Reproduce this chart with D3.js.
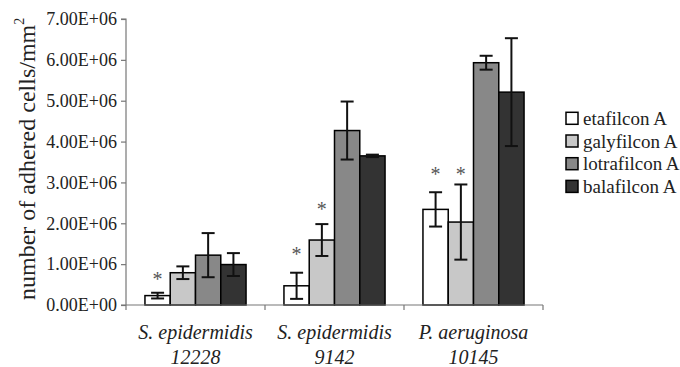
<!DOCTYPE html>
<html><head><meta charset="utf-8">
<script src="https://cdn.jsdelivr.net/npm/d3@7"></script>
<style>body{margin:0;background:#fff}svg{display:block;font-family:"Liberation Serif",serif}</style>
</head><body>
<script>
const categories = [["S. epidermidis","12228"],["S. epidermidis","9142"],["P. aeruginosa","10145"]];
const seriesNames = ["etafilcon A","galyfilcon A","lotrafilcon A","balafilcon A"];
const colors = ["#ffffff","#c8c8c8","#888888","#333333"];
// values in cells/mm^2 (x1e6)
const etafilcon = [0.23, 0.47, 2.34];
const galyfilcon = [0.79, 1.59, 2.03];
const lotrafilcon = [1.22, 4.27, 5.93];
const balafilcon = [0.99, 3.65, 5.21];
const etafilconErr = [0.07, 0.32, 0.42];
const galyfilconErr = [0.155, 0.39, 0.92];
const lotrafilconErr = [0.54, 0.71, 0.17];
const balafilconErr = [0.28, 0.03, 1.32];
// significance markers: [category, series, height (x1e6)]
const asterisks = [[0,0,0.69],[1,0,1.30],[1,1,2.41],[2,0,3.26],[2,1,3.26]];
const yTicks = [0,1,2,3,4,5,6,7];

(function(){
const values = [etafilcon, galyfilcon, lotrafilcon, balafilcon];
const errs = [etafilconErr, galyfilconErr, lotrafilconErr, balafilconErr];

const W = 680, H = 367;
const svg = d3.select("body").append("svg").attr("width", W).attr("height", H);
const mL = 126, mR = 543, mT = 19, mB = 305;
const x = d3.scaleBand().domain(d3.range(categories.length)).range([mL, mR]).paddingInner(0).paddingOuter(0);
const y = d3.scaleLinear().domain([0, 7]).range([mB, mT]);
const bw = x.bandwidth() / (4 + 1.5);
const off = bw * 0.75;
const font = "Liberation Serif";

// bars
const bars = [];
values.forEach((arr, s) => arr.forEach((v, c) => bars.push({s, c, v, e: errs[s][c]})));
const bx = d => x(d.c) + off + d.s * bw;
svg.append("g").selectAll("rect").data(bars).join("rect")
  .attr("x", bx).attr("y", d => y(d.v)).attr("width", bw).attr("height", d => y(0) - y(d.v))
  .attr("fill", d => colors[d.s]).attr("stroke", "#000").attr("stroke-width", 1.5);

// error bars
const eg = svg.append("g").attr("stroke", "#111").attr("stroke-width", 2);
bars.forEach(d => {
  const cx = bx(d) + bw / 2;
  eg.append("line").attr("x1", cx).attr("x2", cx).attr("y1", y(d.v + d.e)).attr("y2", y(d.v - d.e));
  [d.v + d.e, d.v - d.e].forEach(t => eg.append("line").attr("x1", cx - 6.5).attr("x2", cx + 6.5).attr("y1", y(t)).attr("y2", y(t)));
});

// asterisks
svg.append("g").selectAll("text").data(asterisks).join("text")
  .attr("x", d => x(d[0]) + off + d[1] * bw + bw / 2).attr("y", d => y(d[2]) + 9)
  .attr("text-anchor", "middle").attr("font-family", font).attr("font-size", 20).attr("fill", "#555")
  .text("*");

// y axis
const yAxis = d3.axisLeft(y).tickValues(yTicks).tickSize(5).tickFormat(d => d3.format(".2f")(d) + "E+" + (d === 0 ? "00" : "06"));
const ya = svg.append("g").attr("transform", `translate(${mL},0)`).call(yAxis);
ya.attr("font-family", font);
ya.select(".domain").attr("stroke", "#777").attr("stroke-width", 1.2).attr("d", `M-5,${mT}H0V${mB}`);
ya.selectAll(".tick line").attr("stroke", "#777").attr("stroke-width", 1.2);
ya.selectAll(".tick text").attr("font-family", font).attr("font-size", 18).attr("fill", "#222").attr("x", -9);

// x axis
const xa = svg.append("g").attr("transform", `translate(0,${mB})`);
xa.append("line").attr("x1", mL - 5).attr("x2", mR).attr("y1", 0).attr("y2", 0).attr("stroke", "#777").attr("stroke-width", 1.2);
xa.selectAll("line.t").data(d3.range(categories.length + 1)).join("line").attr("class", "t")
  .attr("x1", i => i < categories.length ? x(i) : mR).attr("x2", i => i < categories.length ? x(i) : mR)
  .attr("y1", 0).attr("y2", 5).attr("stroke", "#777").attr("stroke-width", 1.2);
const xl = xa.selectAll("text").data(categories).join("text")
  .attr("text-anchor", "middle").attr("font-family", font).attr("font-style", "italic").attr("font-size", 20).attr("fill", "#222");
xl.append("tspan").attr("x", (d, i) => x(i) + x.bandwidth() / 2).attr("y", 34).text(d => d[0]);
xl.append("tspan").attr("x", (d, i) => x(i) + x.bandwidth() / 2).attr("y", 59).text(d => d[1]);

// y label
const yl = svg.append("text").attr("transform", `translate(35,300) rotate(-90)`)
  .attr("text-anchor", "start").attr("font-family", font).attr("font-size", 24).attr("fill", "#222");
yl.append("tspan").text("number of adhered cells/mm");
yl.append("tspan").attr("font-size", 14).attr("dy", -11).text("2");

// legend
const lg = svg.append("g").selectAll("g").data(seriesNames).join("g")
  .attr("transform", (d, i) => `translate(566,${118.3 + i * 22.7})`);
lg.append("rect").attr("x", 0).attr("y", -6).attr("width", 12).attr("height", 12)
  .attr("fill", (d, i) => colors[i]).attr("stroke", "#000").attr("stroke-width", 1.5);
lg.append("text").attr("x", 17).attr("y", 6.5).attr("font-family", font).attr("font-size", 19).attr("fill", "#222").text(d => d);
})();
</script>
</body></html>
